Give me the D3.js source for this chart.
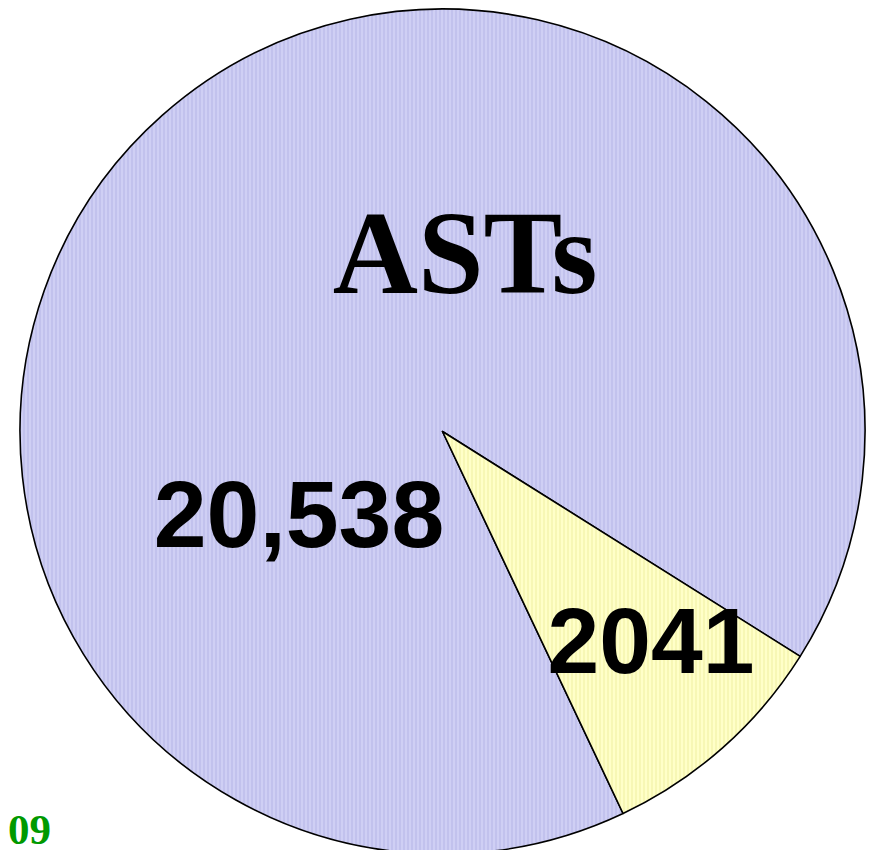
<!DOCTYPE html>
<meta charset="utf-8">
<style>
body {
  margin: 0;
  background: #fff;
}
</style>
<body>
<script src="https://cdn.jsdelivr.net/npm/d3@7"></script>
<script>

var width = 871,
    height = 850;

var categories = ["ASTs", "other"];
var values = [20538, 2041];
var valueLabels = ["20,538", "2041"];

var cx = 442.5, cy = 431.5, radius = 422.5;

var svg = d3.select("body").append("svg")
    .attr("width", width)
    .attr("height", height);

// striped fills, like the old office chart
var defs = svg.append("defs");
var fills = [
  { id: "blueStripes", base: "#cfcff4", line: "#b4b4e6" },
  { id: "yellowStripes", base: "#ffffc8", line: "#eeeea2" }
];
fills.forEach(function(f) {
  var p = defs.append("pattern")
      .attr("id", f.id)
      .attr("patternUnits", "userSpaceOnUse")
      .attr("width", 4)
      .attr("height", 4);
  p.append("rect").attr("width", 4).attr("height", 4).attr("fill", f.base);
  p.append("rect").attr("x", 1).attr("width", 1).attr("height", 4).attr("fill", f.line);
});

var pie = d3.pie()
    .sort(null)
    .startAngle(-205.3 * Math.PI / 180)
    .endAngle(154.7 * Math.PI / 180);

var arc = d3.arc()
    .innerRadius(0)
    .outerRadius(radius);

var g = svg.append("g")
    .attr("transform", "translate(" + cx + "," + cy + ")");

g.selectAll(".slice")
    .data(pie(values))
  .enter().append("path")
    .attr("class", "slice")
    .attr("d", arc)
    .attr("fill", function(d, i) { return "url(#" + fills[i].id + ")"; })
    .attr("stroke", "#000")
    .attr("stroke-width", 1.6)
    .attr("stroke-linejoin", "round");

// value labels
var labelPos = [[299, 547], [651, 673]];
g.selectAll(".val")
    .data(valueLabels)
  .enter().append("text")
    .attr("class", "val")
    .attr("x", function(d, i) { return labelPos[i][0] - cx; })
    .attr("y", function(d, i) { return labelPos[i][1] - cy; })
    .attr("text-anchor", "middle")
    .style("font-family", "Liberation Sans, Arial, sans-serif")
    .style("font-weight", "bold")
    .style("font-size", function(d, i) { return i ? "93px" : "95px"; })
    .text(function(d) { return d; });

svg.append("text")
    .attr("x", 465)
    .attr("y", 293)
    .attr("text-anchor", "middle")
    .style("font-family", "Liberation Serif, Times New Roman, serif")
    .style("font-weight", "bold")
    .style("font-size", "118px")
    .text(categories[0]);

svg.append("text")
    .attr("x", 8)
    .attr("y", 844)
    .style("font-family", "Liberation Serif, Times New Roman, serif")
    .style("font-weight", "bold")
    .style("font-size", "43px")
    .style("fill", "#009900")
    .text("09");

</script>
